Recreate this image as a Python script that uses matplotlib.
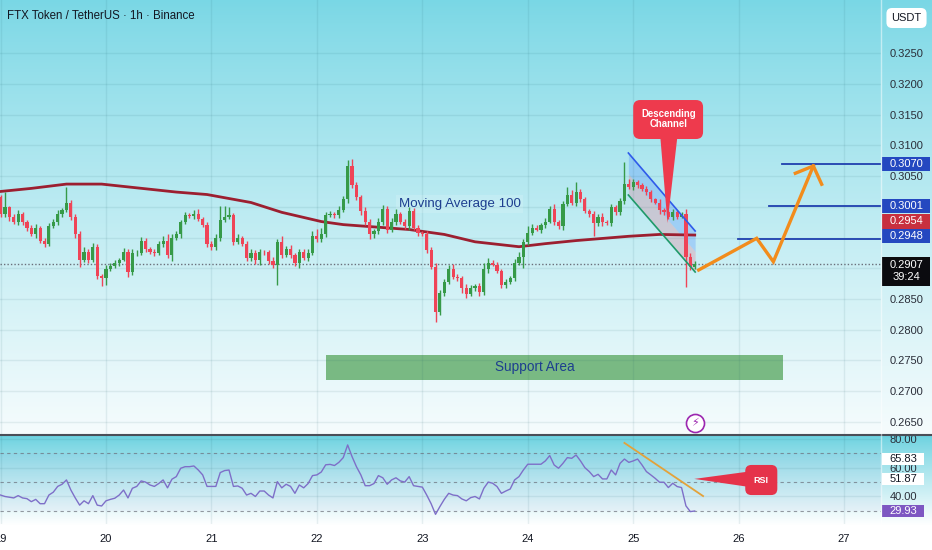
import numpy as np
import matplotlib.pyplot as plt
from matplotlib.patches import Rectangle, FancyBboxPatch, Polygon

plt.rcParams['font.family'] = ['Liberation Sans', 'DejaVu Sans']

# ---------------- data (1h candles, hour 0 = day 19 00:00) ----------------
first_open = 0.3016
closes = [
    0.2988, 0.2999, 0.2983, 0.2975, 0.2988, 0.2975, 0.2966, 0.2955, 0.2966, 0.2945,
    0.2940, 0.2968, 0.2975, 0.2988, 0.2994, 0.3007, 0.2983, 0.2955, 0.2914, 0.2927,
    0.2914, 0.2935, 0.2888, 0.2884, 0.2899, 0.2904, 0.2909, 0.2914, 0.2927, 0.2894,
    0.2924, 0.2925, 0.2945, 0.2932, 0.2927, 0.2925, 0.2939, 0.2945, 0.2922, 0.2950,
    0.2955, 0.2975, 0.2986, 0.2985, 0.2989, 0.2980, 0.2971, 0.2940, 0.2934, 0.2950,
    0.2978, 0.2984, 0.2986, 0.2943, 0.2950, 0.2939, 0.2917, 0.2925, 0.2914, 0.2927,
    0.2926, 0.2912, 0.2906, 0.2942, 0.2922, 0.2932, 0.2922, 0.2909, 0.2927, 0.2917,
    0.2925, 0.2952, 0.2947, 0.2955, 0.2986, 0.2988, 0.2986, 0.2994, 0.3012, 0.3066,
    0.3035, 0.3016, 0.2993, 0.2975, 0.2955, 0.2960, 0.2975, 0.2996, 0.2963, 0.2976,
    0.2988, 0.2975, 0.2968, 0.2993, 0.2966, 0.2958, 0.2955, 0.2930, 0.2902, 0.2829,
    0.2860, 0.2878, 0.2899, 0.2886, 0.2884, 0.2868, 0.2858, 0.2868, 0.2871, 0.2861,
    0.2898, 0.2909, 0.2906, 0.2896, 0.2873, 0.2878, 0.2884, 0.2909, 0.2919, 0.2942,
    0.2958, 0.2966, 0.2963, 0.2970, 0.2976, 0.2996, 0.2975, 0.2968, 0.3004, 0.3020,
    0.3007, 0.3024, 0.3012, 0.2993, 0.2988, 0.2973, 0.2984, 0.2975, 0.2974, 0.2999,
    0.2991, 0.3009, 0.3037, 0.3032, 0.3040, 0.3035, 0.3029, 0.3024, 0.3012, 0.3007,
    0.2994, 0.2991, 0.2983, 0.2991, 0.2984, 0.2989, 0.2919, 0.2902, 0.2907,
]
# wick lengths beyond the body, in 0.0001 units
wick_up = [
    4, 25, 3, 5, 6, 3, 4, 5, 6, 3, 4, 6, 5, 7, 4, 25, 4, 6, 5, 8,
    4, 6, 5, 3, 6, 4, 5, 3, 6, 4, 7, 5, 6, 4, 3, 5, 6, 8, 10, 6,
    5, 4, 6, 4, 5, 8, 3, 4, 5, 6, 23, 17, 13, 4, 6, 3, 5, 6, 4, 5,
    3, 4, 6, 5, 10, 4, 6, 3, 5, 4, 6, 8, 12, 10, 6, 5, 4, 8, 6, 10,
    12, 5, 4, 6, 5, 4, 6, 7, 5, 6, 8, 4, 5, 6, 5, 4, 3, 5, 4, 6,
    5, 4, 6, 8, 5, 4, 6, 5, 4, 5, 10, 8, 5, 4, 3, 5, 4, 6, 8, 5,
    10, 6, 5, 4, 6, 5, 8, 4, 6, 12, 8, 16, 5, 4, 3, 5, 4, 6, 3, 5,
    4, 6, 36, 8, 5, 4, 3, 5, 4, 3, 5, 4, 3, 5, 4, 3, 8, 5, 4,
]
wick_dn = [
    5, 4, 6, 3, 5, 4, 6, 3, 5, 4, 6, 4, 3, 5, 4, 3, 5, 6, 12, 4,
    5, 4, 6, 13, 11, 3, 4, 5, 3, 8, 5, 4, 3, 6, 4, 5, 3, 4, 5, 11,
    4, 5, 3, 4, 5, 3, 4, 6, 5, 4, 6, 3, 4, 5, 4, 3, 6, 5, 7, 8,
    4, 5, 6, 33, 5, 4, 6, 5, 8, 4, 5, 3, 4, 5, 4, 3, 5, 4, 3, 5,
    4, 5, 6, 4, 8, 5, 4, 5, 6, 4, 5, 3, 4, 5, 4, 6, 3, 5, 4, 17,
    6, 5, 4, 3, 5, 8, 6, 4, 5, 6, 4, 5, 3, 4, 6, 5, 4, 5, 4, 18,
    5, 4, 3, 5, 4, 3, 5, 4, 6, 3, 4, 5, 4, 3, 5, 21, 4, 6, 3, 5,
    4, 5, 4, 3, 5, 4, 3, 5, 4, 3, 5, 4, 3, 5, 4, 3, 49, 5, 4,
]
# moving average 100, read at a few hours
ma_hours = [0, 7, 15, 23, 40, 47, 57, 64, 73, 78, 93, 101, 108, 118, 124, 131, 143, 150, 158]
ma_values = [0.3025, 0.3030, 0.3037, 0.3037, 0.3024, 0.3020, 0.3007, 0.2991, 0.2976, 0.2971,
             0.2963, 0.2955, 0.2943, 0.2935, 0.2940, 0.2945, 0.2952, 0.2955, 0.2954]
rsi = [
    41, 40, 39.5, 39, 40.6, 39, 38.5, 36.4, 38, 35,
    35, 41, 43, 47, 48.5, 51.5, 44.5, 39, 34, 37,
    35, 40.6, 34, 33.4, 37, 38, 38.8, 41, 44.5, 39,
    45.7, 47, 50.8, 50, 48, 47, 49, 51.5, 46, 52,
    53.8, 59.6, 60.7, 60.7, 61.2, 58.4, 55, 47, 47, 47,
    56.6, 58, 58.4, 47, 47.3, 45.7, 41, 42.2, 40, 43.8,
    43.8, 41, 39, 50.3, 46, 48.5, 47, 42.2, 48, 46,
    49, 54.5, 55, 57, 62, 62.3, 61.5, 63.7, 67, 75.8,
    67.7, 60.7, 55, 47.5, 47.5, 49, 54.5, 53, 48.5, 51.5,
    53, 50.8, 50, 53.8, 47.5, 47, 46.5, 41, 35, 27.6,
    33, 38, 42.2, 41, 40.6, 38.3, 37, 39.2, 40, 38.3,
    45.7, 50, 49.2, 46.9, 42.2, 43.8, 45.2, 51.5, 53.8, 58.4,
    62.4, 62.4, 62.4, 62.4, 64.7, 68.4, 61.9, 59.6, 63, 67,
    66.5, 68.8, 64.7, 60, 57.3, 53.8, 55.4, 52.2, 52.2, 58.4,
    55, 63, 66, 63.7, 64.7, 66, 61.9, 57.3, 55, 52.6,
    49.9, 49.9, 46.2, 49.2, 46.9, 46.2, 33.5, 29.5, 29.93,
]
day_labels = ['19', '20', '21', '22', '23', '24', '25', '26', '27']
price_ticks = [0.3250, 0.3200, 0.3150, 0.3100, 0.3050, 0.3000, 0.2950, 0.2900,
               0.2850, 0.2800, 0.2750, 0.2700, 0.2650]
hidden_ticks = [0.3000, 0.2950, 0.2900]   # covered by the value tags
rsi_ticks = [80, 60, 40]
last_price = 0.2907
ma_last = 0.2954
target_levels = [0.3070, 0.3001, 0.2948]
target_start = [177.9, 174.9, 167.9]
support_low, support_high = 0.27184, 0.27591
support_start, support_end = 74.0, 178.1
# drawings (hour, price)
chan_hours = [142.9, 158.1]
chan_top = [0.30876, 0.29606]
chan_bot = [0.30192, 0.28938]
path_hours = [158.9, 172.1, 175.9, 185.0]
path_prices = [0.28971, 0.29487, 0.29106, 0.30665]
head_hours = [180.9, 185.0, 186.9]
head_prices = [0.30546, 0.30665, 0.30367]
rsi_line_hours = [142.0, 159.9]
rsi_line_vals = [77.2, 40.3]

opens = [first_open] + closes[:-1]
hours = np.arange(len(closes))
o = np.array(opens)
c = np.array(closes)
hi = np.maximum(o, c) + np.array(wick_up) * 1e-4
lo = np.minimum(o, c) - np.array(wick_dn) * 1e-4

# ---------------- figure ----------------
W, H = 932, 550
fig = plt.figure(figsize=(W / 100, H / 100), dpi=100)

# background gradient (main pane, rsi pane, white bottom)
top1 = np.array([121, 215, 229]) / 255
bot1 = np.array([246, 252, 253]) / 255
top2 = np.array([108, 210, 224]) / 255
white = np.ones(3)
img = np.ones((H, 1, 3))
for y in range(H):
    if y < 435:
        t = (y / 434) ** 0.85
        img[y, 0] = top1 + (bot1 - top1) * t
    elif y < 526:
        t = ((y - 435) / 90) ** 0.9
        img[y, 0] = top2 + (white - top2) * t
bg = fig.add_axes([0, 0, 1, 1], zorder=-10)
bg.imshow(img, aspect='auto', extent=[0, 1, 0, 1])
bg.set_axis_off()

AXR = 881 / W
ax = fig.add_axes([0, 1 - 434 / H, AXR, 434 / H])
ax2 = fig.add_axes([0, 1 - 524 / H, AXR, 88 / H], sharex=ax)
for a in (ax, ax2):
    a.set_facecolor('none')
    for s in a.spines.values():
        s.set_visible(False)
    a.tick_params(length=0, colors='#2a2e39', labelsize=8)
    a.yaxis.tick_right()
    a.set_xticks(np.arange(0, 24 * 9, 24))
    a.grid(True, color='#1b5a66', alpha=0.09, lw=1)

ax.set_xlim(-0.13, 200.4)
ax.set_ylim(0.26300, 0.33368)
ax.set_yticks(price_ticks)
ax.set_yticklabels(['' if p in hidden_ticks else f'{p:.4f}' for p in price_ticks])
ax.tick_params(axis='y', pad=6)
ax.tick_params(axis='x', labelbottom=False)

ax2.set_ylim(20.9, 82.0)
ax2.set_yticks(rsi_ticks)
ax2.set_yticklabels([f'{v:.2f}' for v in rsi_ticks])
ax2.tick_params(axis='y', pad=6)
ax2.set_xticklabels(day_labels)
ax2.tick_params(axis='x', pad=7, labelsize=8, labelcolor='#131722')

# support area
ax.add_patch(Rectangle((support_start, support_low), support_end - support_start,
                       support_high - support_low, color='#79b983', zorder=1, lw=0))
ax.text(121.6, (support_low + support_high) / 2,
        'Support Area', color='#1d3e8f', fontsize=9.8, ha='center', va='center', zorder=2)

# descending channel
mid = [(a + b) / 2 for a, b in zip(chan_top, chan_bot)]
ax.fill_between(chan_hours, mid, chan_top, color='#3d7bff', alpha=0.25, lw=0, zorder=1)
ax.fill_between(chan_hours, chan_bot, mid, color='#f2506a', alpha=0.22, lw=0, zorder=1)
ax.plot(chan_hours, chan_top, color='#2f5bea', lw=1.2, zorder=4)
ax.plot(chan_hours, chan_bot, color='#1f9a6a', lw=1.2, zorder=4)

# moving average
ax.plot(ma_hours, ma_values, color='#9c1f30', lw=2, zorder=2)
ax.text(104.5, 0.30046, 'Moving Average 100', color='#1d3e8f', fontsize=9.6,
        ha='center', va='center', zorder=2,
        bbox=dict(boxstyle='square,pad=0.2', fc='white', ec='none', alpha=0.15))

# candles
up = c >= o
green, red = '#369a48', '#ef4457'
cols = np.where(up, green, red)
ax.vlines(hours, lo, hi, colors=cols, lw=1, zorder=3)
body_h = np.maximum(np.abs(c - o), 0.00008)
ax.bar(hours, body_h, bottom=np.minimum(o, c), width=0.72, color=cols, lw=0, zorder=3)

# last price dotted line
ax.axhline(last_price, color='#6a6f7a', lw=1, ls=(0, (1, 1.5)), zorder=2)

# targets
for lvl, st in zip(target_levels, target_start):
    ax.plot([st, 200.4], [lvl, lvl], color='#1f3fae', lw=1.3, zorder=4)

# orange projected path
ax.plot(path_hours, path_prices, color='#f28c1c', lw=2.4, solid_joinstyle='miter', zorder=5)
ax.plot(head_hours, head_prices, color='#f28c1c', lw=2.4, solid_joinstyle='miter', zorder=5)

# descending channel callout
px_x = 1 / 4.399      # hours per pixel
px_p = 1 / 6140       # price per pixel
asp = px_p / px_x
callout_red = '#ee3a4d'
ax.add_patch(FancyBboxPatch((144.0, 0.31104), 15.9, 0.31739 - 0.31104,
                            boxstyle='round,pad=0,rounding_size=1.6', mutation_aspect=asp,
                            fc=callout_red, ec='none', zorder=6))
ax.add_patch(Polygon([[150.2, 0.31110], [154.0, 0.31110], [151.8, 0.29736]],
                     closed=True, fc=callout_red, ec='none', zorder=6))
ax.text(152.0, 0.31422, 'Descending\nChannel', color='white', fontsize=6.9,
        fontweight='bold', ha='center', va='center', linespacing=1.0, zorder=7)

# lightning icon
ax.plot([158.1], [0.26479], 'o', ms=13, mfc='white', mec='#9c27b0', mew=1.2,
        zorder=6, clip_on=False)
ax.text(158.1, 0.26479, '\u26a1', color='#9c27b0', fontsize=8, ha='center',
        va='center', family=['DejaVu Sans'], zorder=7)

# RSI pane
ax2.plot(hours, rsi, color='#7e6fc8', lw=1, zorder=3)
for lvl in (70, 50, 30):
    ax2.axhline(lvl, color='#6b6f7a', lw=0.8, ls=(0, (3, 3)), alpha=0.7, zorder=2)
ax2.fill_between([-1, 201], 30, 70, color='#7e57c2', alpha=0.04, lw=0, zorder=1)
ax2.plot(rsi_line_hours, rsi_line_vals, color='#e3a23a', lw=1.3, zorder=4)
asp2 = (1 / 1.44) / px_x
ax2.add_patch(FancyBboxPatch((169.5, 41.0), 7.3, 20.9,
                             boxstyle='round,pad=0,rounding_size=1.4', mutation_aspect=asp2,
                             fc='#e5334a', ec='none', zorder=6))
ax2.add_patch(Polygon([[157.9, 52.2], [170.0, 57.2], [170.0, 46.8]], closed=True,
                      fc='#e5334a', ec='none', zorder=6))
ax2.text(173.1, 51.2, 'RSI', color='white', fontsize=6.5, fontweight='bold',
         ha='center', va='center', zorder=7)

# right axis value tags
def tag(a, y_val, text, fc, tc, h_px, per_px, width=0.0545):
    tr = a.get_yaxis_transform()
    a.add_patch(Rectangle((1.0015, y_val - h_px * per_px / 2), width, h_px * per_px,
                          transform=tr, fc=fc, ec='none', clip_on=False, zorder=8))
    a.text(1.0015 + width / 2, y_val, text, transform=tr, color=tc, fontsize=8,
           ha='center', va='center', clip_on=False, zorder=9, linespacing=1.3)

p_of = lambda y: 0.3250 - (y - 53.3) * px_p
tag(ax, p_of(164), '0.3070', '#2448c0', 'white', 14, px_p)
tag(ax, p_of(206), '0.3001', '#2448c0', 'white', 14, px_p)
tag(ax, p_of(221), f'{ma_last:.4f}', '#c8303f', 'white', 15, px_p)
tag(ax, p_of(236), '0.2948', '#2448c0', 'white', 14, px_p)
tag(ax, p_of(271), f'{last_price:.4f}\n39:24', '#0b0b0f', 'white', 29, px_p)

tag(ax2, 65.83, '65.83', 'white', '#131722', 12, 1 / 1.44, width=0.047)
tag(ax2, 51.87, '51.87', 'white', '#131722', 12, 1 / 1.44, width=0.047)
tag(ax2, 29.93, '29.93', '#7e57c2', 'white', 12, 1 / 1.44, width=0.047)

# pane separator and axis divider
fig.add_artist(plt.Line2D([0, 1], [1 - 435 / H, 1 - 435 / H], color='#4a4e57', lw=1.5))
fig.add_artist(plt.Line2D([AXR + 0.0005, AXR + 0.0005], [1 - 524 / H, 1], color='white',
                          lw=1, alpha=0.5))

# header texts
fig.text(7 / W, 1 - 16 / H, 'FTX Token / TetherUS \u00b7 1h \u00b7 Binance', fontsize=8.3,
         color='#131722', ha='left', va='center')
fig.text(906.5 / W, 1 - 18 / H, 'USDT', fontsize=8, color='#131722', ha='center', va='center',
         bbox=dict(boxstyle='round,pad=0.45,rounding_size=0.5', fc='white', ec='none'))

fig.savefig('out.png', dpi=100)
